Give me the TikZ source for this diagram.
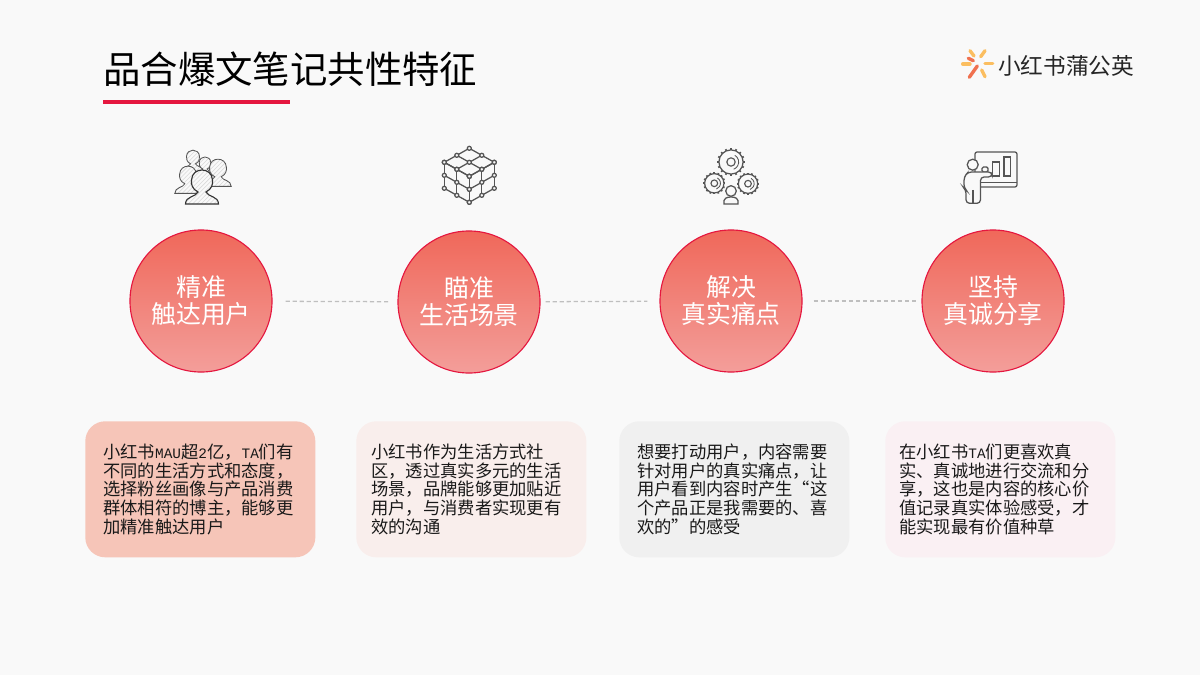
\documentclass[tikz,border=0pt]{standalone}
\usepackage{fontspec}
\setmainfont{Noto Sans CJK SC}
\newfontfamily\halfwidth{Liberation Mono}
\newcommand{\latn}[1]{{\halfwidth\fontsize{10.25}{13.3}\selectfont #1}}
\usetikzlibrary{patterns}
\definecolor{pagebg}{HTML}{F9F9F9}
\definecolor{rosered}{HTML}{E5173F}
\definecolor{icongray}{HTML}{555555}
\tikzset{
	person/.pic={
		\path[fill=pagebg] (-16.5,23) .. controls (-16.5,15) and (-6,16) .. (-4,11) .. controls (-10,8) and (-11,3) .. (-10.5,-1) .. controls (-10,-8) and (-5,-11) .. (0,-11) .. controls (5,-11) and (10,-8) .. (10.5,-1) .. controls (11,3) and (10,8) .. (4,11) .. controls (6,16) and (16.5,15) .. (16.5,23) -- cycle;
		\draw[pic actions,pattern=north east lines,pattern color=black!15] (-16.5,23) .. controls (-16.5,15) and (-6,16) .. (-4,11) .. controls (-10,8) and (-11,3) .. (-10.5,-1) .. controls (-10,-8) and (-5,-11) .. (0,-11) .. controls (5,-11) and (10,-8) .. (10.5,-1) .. controls (11,3) and (10,8) .. (4,11) .. controls (6,16) and (16.5,15) .. (16.5,23) -- cycle;
	},
	gear/.pic={
		\draw[icongray,line width=.9pt] (0,0) circle (11);
		\draw[icongray,line width=.8pt] (0,0) circle (3.8);
		\draw[icongray,line width=.6pt] (-60:7) arc (-60:70:7);
		\foreach \a in {0,22.5,...,337.5}
			\draw[icongray,line width=1.2pt] (\a:11) -- (\a:12.6);
	},
}
\begin{document}
\begin{tikzpicture}[x=0.025cm,y=-0.025cm,
	main node/.style={circle,draw=rosered,line width=.8pt,minimum size=3.55cm,inner sep=0pt,top color=F0685A,bottom color=F39E9A,text=white,align=center,font=\fontsize{17.7}{19.2}\selectfont},
	note node/.style={anchor=north west,rounded corners=.5cm,minimum width=5.75cm,minimum height=3.4cm,inner sep=0pt,text width=#1,align=left,text=black!90,font=\fontsize{12.3}{13.3}\selectfont},
	link/.style={densely dashed,black!25,line width=.9pt},
	iconline/.style={icongray,line width=.9pt},
	ray/.style={line width=2.4pt,line cap=round},
]
	\definecolor{F0685A}{HTML}{F0685A}
	\definecolor{F39E9A}{HTML}{F39E9A}
	\definecolor{note1}{HTML}{F6C5B8}
	\definecolor{note2}{HTML}{F9EEEC}
	\definecolor{note3}{HTML}{F0F0F0}
	\definecolor{note4}{HTML}{FAF0F3}
	\definecolor{sunyellow}{HTML}{FBBE60}
	\definecolor{sunred}{HTML}{F0714F}
	\fill[pagebg] (0,0) rectangle (1200,675);
	\useasboundingbox (0,0) rectangle (1200,675);

	% title
	\node[anchor=west,inner sep=0pt,font=\fontsize{26.6}{30}\selectfont] at (103,69) (title) {品合爆文笔记共性特征};
	\coordinate (rule a) at (103,102);
	\coordinate (rule b) at (290,102);
	\draw[rosered,line width=2.2pt] (rule a) -- (rule b);

	% logo
	\draw[ray,sunyellow] (970,50.7) -- (974,56);
	\draw[ray,sunyellow] (985,50.7) -- (980.7,56.7);
	\draw[ray,sunyellow] (962.7,64) -- (970,64);
	\draw[ray,sunyellow] (985,63.3) -- (992.7,63.3);
	\draw[ray,sunyellow] (981.7,70) -- (985,76.7);
	\draw[ray,sunred] (977.3,66) -- (969.3,77.3);
	\draw[ray,sunred] (968.3,58.3) -- (973.3,60.7);
	\node[anchor=west,inner sep=0pt,text=black!85,font=\fontsize{16.1}{18}\selectfont] at (998,66) (logo) {小红书蒲公英};

	% circles
	\node[main node] at (201,301) (c1) {精准\\触达用户};
	\node[main node] at (469,302) (c2) {瞄准\\生活场景};
	\node[main node] at (731,301) (c3) {解决\\真实痛点};
	\node[main node] at (993,301) (c4) {坚持\\真诚分享};

	\draw[link,shorten <=.325cm,shorten >=.225cm] (c1) -- (c2);
	\draw[link,shorten <=.125cm,shorten >=.3cm] (c2) -- (c3);
	\draw[link,shorten <=.275cm,shorten >=.1cm] (c3) -- (c4);

	% notes
	\node[note node=4.85cm,fill=note1] at (85,421) (n1) {小红书\latn{MAU}超\latn{2}亿，\latn{TA}们有\\不同的生活方式和态度，\\选择粉丝画像与产品消费\\群体相符的博主，能够更\\加精准触达用户};
	\node[note node=5cm,fill=note2] at (356,421) (n2) {小红书作为生活方式社\\区，透过真实多元的生活\\场景，品牌能够更加贴近\\用户，与消费者实现更有\\效的沟通};
	\node[note node=4.85cm,fill=note3] at (619,421) (n3) {想要打动用户，内容需要\\针对用户的真实痛点，让\\用户看到内容时产生“这\\个产品正是我需要的、喜\\欢的”的感受};
	\node[note node=5.05cm,fill=note4] at (885,421) (n4) {在小红书\latn{TA}们更喜欢真\\实、真诚地进行交流和分\\享，这也是内容的核心价\\值记录真实体验感受，才\\能实现最有价值种草};

	% people icon
	\pic[icongray,line width=.6pt,scale=.62] at (193,157) {person};
	\pic[icongray,line width=.6pt,scale=.55] at (205,163) {person};
	\pic[icongray,line width=.6pt,scale=.8] at (218,168) {person};
	\pic[icongray,line width=.6pt,scale=.8] at (188,175) {person};
	\pic[black!80,line width=.8pt] at (202,181) {person};

	% cube icon
	\foreach \i in {0,1,2} {
		\draw[iconline] ({444.3+12.5*\i},{162.3+7*\i}) -- ({469.3+12.5*\i},{148.3+7*\i});
		\draw[iconline] ({444.3+12.5*\i},{162.3-7*\i}) -- ({469.3+12.5*\i},{176.3-7*\i});
		\draw[iconline] ({444.3+12.5*\i},{162.3+7*\i}) -- ({444.3+12.5*\i},{188.3+7*\i});
		\draw[iconline] ({469.3+12.5*\i},{176.3-7*\i}) -- ({469.3+12.5*\i},{202.3-7*\i});
		\draw[iconline] (444.3,{162.3+13*\i}) -- (469.3,{176.3+13*\i});
		\draw[iconline] (469.3,{176.3+13*\i}) -- (494.3,{162.3+13*\i});
	}
	\foreach \i in {0,1,2} \foreach \j in {0,1,2} {
		\draw[iconline,fill=pagebg] ({444.3+12.5*\i+12.5*\j},{162.3+7*\i-7*\j}) circle (2);
		\draw[iconline,fill=pagebg] ({444.3+12.5*\i},{162.3+7*\i+13*\j}) circle (2);
		\draw[iconline,fill=pagebg] ({469.3+12.5*\i},{176.3-7*\i+13*\j}) circle (2);
	}

	% gears icon
	\pic[scale=1.1] at (731,162) {gear};
	\pic[scale=.88] at (714.3,183.3) {gear};
	\pic[scale=.88] at (748,183.7) {gear};
	\draw[iconline,fill=pagebg] (731,191) circle (5.3);
	\draw[iconline,fill=pagebg] (724,204) .. controls (723,198) and (727,197) .. (731,197) .. controls (735,197) and (739,198) .. (738,204) -- cycle;

	% board icon
	\draw[iconline,rounded corners=1.5pt] (975,152) rectangle (1017,187);
	\draw[iconline] (978,182.7) -- (1017,182.7);
	\draw[iconline] (992.7,162) rectangle (999.3,176);
	\draw[iconline] (1004,157) rectangle (1010.7,176);
	\draw[iconline,fill=pagebg,rounded corners=1pt] (982,167) rectangle (988,172);
	\draw[iconline,fill=pagebg,rounded corners=2.5pt] (966,203.3) -- (966,190) -- (964,188) -- (964,177) -- (968,172) -- (992,172) -- (992,177) -- (980.5,177) -- (980.5,203.3) -- cycle;
	\draw[iconline] (973,190) -- (973,203);
	\draw[iconline,fill=pagebg] (972.7,164.7) circle (5.5);
\end{tikzpicture}
\end{document}
